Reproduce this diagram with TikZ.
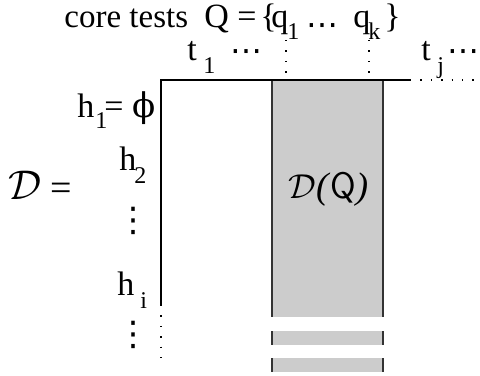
\documentclass[tikz,border=0pt]{standalone}
\usepackage{fontspec}
\setmainfont{Liberation Serif}
\newfontfamily\grkfont{DejaVu Serif}
\newfontfamily\symfont{DejaVu Sans}
\usetikzlibrary{positioning}

\begin{document}
\begin{tikzpicture}[
    x=0.5pt, y=-0.5pt,
    every node/.style={inner sep=0pt, anchor=base west, font=\fontsize{17}{20}\selectfont},
    sub/.style={font=\fontsize{12}{14}\selectfont},
    dotsym/.style={font=\fontsize{16}{18}\selectfont\symfont},
    vdotsym/.style={anchor=center, font=\fontsize{17}{20}\selectfont\symfont},
    frame/.style={line width=0.6pt},
    dotline/.style={line width=0.7pt, dash pattern=on 0.7pt off 4.5pt},
    core/.style={fill=black!20},
    side/.style={line width=0.8pt, black!80}
]
\useasboundingbox (0,0) rectangle (480,375);

% ============ CORE TEST COLUMN ============
\fill[core] (272,80) rectangle (383,317);
\fill[core] (272,331) rectangle (383,345);
\fill[core] (272,358) rectangle (383,372);
\foreach \ya/\yb in {80/317, 331/345, 358/372} {
    \draw[side] (272,\ya) -- (272,\yb);
    \draw[side] (383,\ya) -- (383,\yb);
}
\node[font=\fontsize{18.5}{22}\selectfont] (dq) at (288,198) {$\mathcal{D}$\textit{(}\textsf{Q}\textit{)}};

% ============ MATRIX FRAME ============
\draw[frame] (161,305) -- (161,80) -- (410,80);
\draw[dotline] (410,80) -- (480,80);
\draw[dotline] (161,305) -- (161,360);
\draw[dotline] (286,40) -- (286,80);
\draw[dotline] (369,40) -- (369,80);

% ============ CORE TESTS LABEL ============
\node[font=\fontsize{16.5}{20}\selectfont] (core) at (64,27) {core tests};
\node (qeq) at (204,27) {Q =};
\node (lbr) at (260,27) {\{};
\node (qa) at (271,27) {q};
\node[sub] (qas) at (287,39) {1};
\node[dotsym] (qdots) at (306,35) {⋯};
\node (qb) at (353,27) {q};
\node[sub] (qbs) at (368,39) {k};
\node (rbr) at (384,27) {\}};

% ============ TESTS (COLUMNS) ============
\node (ta) at (187,60) {t};
\node[sub] (tas) at (203,73) {1};
\node[dotsym] (tadots) at (230,61) {⋯};
\node (tb) at (421,60) {t};
\node[sub] (tbs) at (437,73) {j};
\node[dotsym] (tbdots) at (447,61) {⋯};

% ============ HISTORIES (ROWS) ============
\node (ha) at (77,117) {h};
\node[sub] (has) at (95,128) {1};
\node (haeq) at (104,117) {= {\grkfont ϕ}};
\node (hb) at (119,170) {h};
\node[sub] (hbs) at (134,183) {2};
\node[vdotsym] (vda) at (133,221) {⋮};
\node (hc) at (117,295) {h};
\node[sub] (hcs) at (140,308) {i};
\node[vdotsym] (vdb) at (133,335) {⋮};

% ============ D = ============
\node[font=\fontsize{21}{24}\selectfont] (dset) at (8,199) {$\mathcal{D}$};
\node[font=\fontsize{19}{22}\selectfont] (deq) at (50,200) {=};

\end{tikzpicture}
\end{document}
